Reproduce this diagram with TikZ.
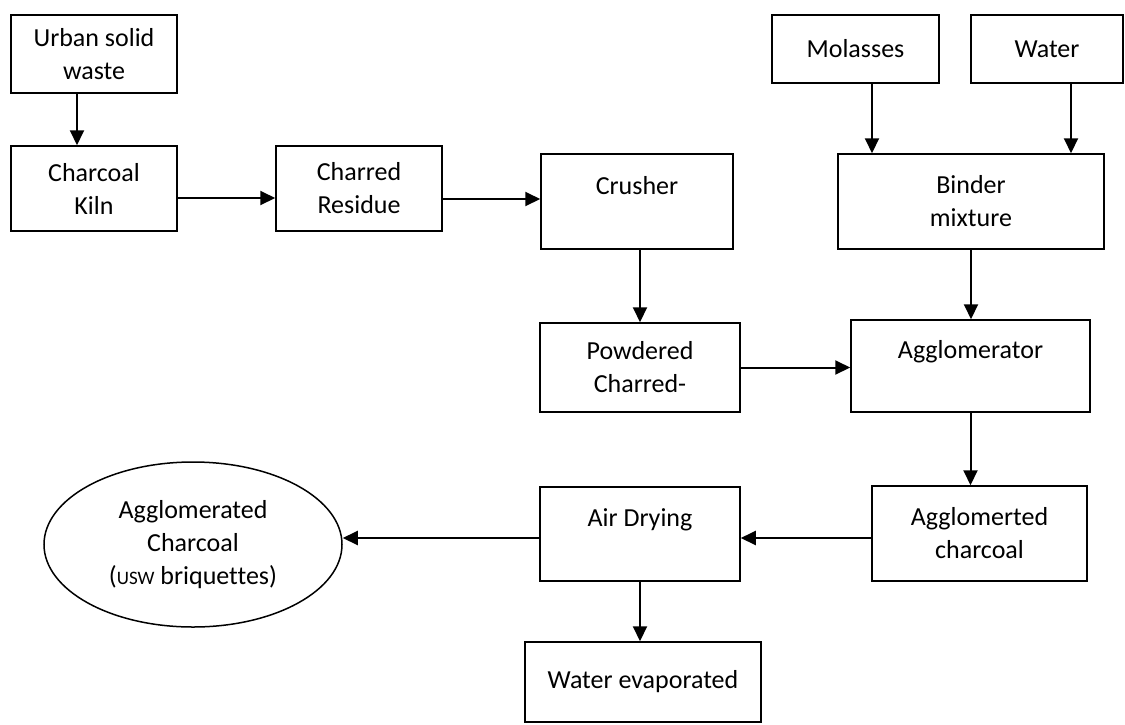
\documentclass[tikz,border=0pt]{standalone}
\usepackage{fontspec}
\setmainfont{Carlito}[Ligatures=NoCommon]
\usepackage{tikz}
\usetikzlibrary{arrows.meta}
\usetikzlibrary{shapes.geometric}

\begin{document}
\begin{tikzpicture}[x=1pt, y=-1pt,
    box/.style={draw, line width=1.5pt, rectangle, inner sep=0pt, align=center,
        font=\fontsize{26}{33}\selectfont},
    flow/.style={line width=2pt, -{Triangle[length=15pt, width=14pt]}}]
    \useasboundingbox (0,0) rectangle (1125,724);
    % inputs and first line
    \node[box, minimum width=166, minimum height=78] (urban) at (94,54) {Urban solid\\waste};
    \node[box, minimum width=166, minimum height=85] (kiln) at (94,188.5) {Charcoal\\Kiln};
    \node[box, minimum width=166, minimum height=85] (charred) at (359,188.5) {Charred\\Residue};
    \node[box, minimum width=192, minimum height=95] (crusher) at (637,201.5) {Crusher\\~};
    \node[box, minimum width=167, minimum height=68] (molasses) at (855.5,49) {Molasses};
    \node[box, minimum width=152, minimum height=68] (water) at (1047,49) {Water};
    \node[box, minimum width=266, minimum height=95] (binder) at (971,201.5) {Binder\\mixture};
    % middle line
    \node[box, minimum width=200, minimum height=89] (powdered) at (640,367.5) {Powdered\\Charred-};
    \node[box, minimum width=239, minimum height=92] (agglomerator) at (970.5,366) {Agglomerator\\~};
    % last lines
    \node[box, minimum width=215, minimum height=95] (agglomerted) at (979.5,533.5) {Agglomerted\\charcoal};
    \node[box, minimum width=200, minimum height=94] (airdrying) at (640,534) {Air Drying\\~};
    \node[box, ellipse, minimum width=298, minimum height=165] (product) at (193,544.5)
        {Agglomerated\\Charcoal\\({\fontsize{19}{33}\selectfont USW} briquettes)};
    \node[box, minimum width=236, minimum height=80] (evaporated) at (643,682) {Water evaporated};

    \draw[flow] ([xshift=-17pt]urban.south) -- ([xshift=-17pt]kiln.north);
    \draw[flow] ([yshift=-9.5pt]kiln.east) -- ([yshift=-9.5pt]charred.west);
    \draw[flow] ([yshift=-10.5pt]charred.east) -- ([yshift=-10.5pt]charred.east -| crusher.west);
    \draw[flow] (crusher.south -| powdered.north) -- (powdered.north);
    \draw[flow] ([xshift=16.5pt]molasses.south) -- ([xshift=16.5pt]molasses.south |- binder.north);
    \draw[flow] ([xshift=24pt]water.south) -- ([xshift=24pt]water.south |- binder.north);
    \draw[flow] (binder.south) -- (binder.south |- agglomerator.north);
    \draw[flow] (powdered.east) -- (powdered.east -| agglomerator.west);
    \draw[flow] (agglomerator.south) -- (agglomerator.south |- agglomerted.north);
    \draw[flow] ([yshift=-4.5pt]agglomerted.west) -- ([yshift=-4.5pt]agglomerted.west -| airdrying.east);
    \draw[flow] ([yshift=-4pt]airdrying.west) -- ([yshift=-4pt]airdrying.west -| product.east);
    \draw[flow] (airdrying.south) -- (airdrying.south |- evaporated.north);
\end{tikzpicture}
\end{document}
